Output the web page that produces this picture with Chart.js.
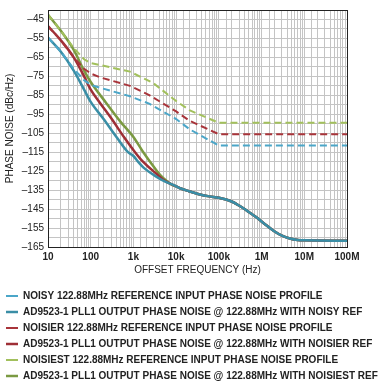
<!DOCTYPE html>
<html>
<head>
<meta charset="utf-8">
<script src="https://cdn.jsdelivr.net/npm/chart.js@4/dist/chart.umd.min.js"></script>
<style>
html,body{margin:0;padding:0;background:#fff;}
#wrap{width:382px;height:387px;}
</style>
</head>
<body>
<div id="wrap"><canvas id="c" width="382" height="387"></canvas></div>
<script>
// Tick labels
const xTickLabels = {10:'10',100:'100',1000:'1k',10000:'10k',100000:'100k',1000000:'1M',10000000:'10M',100000000:'100M'};

// Legend labels
const seriesNames = [
  'NOISY 122.88MHz REFERENCE INPUT PHASE NOISE PROFILE',
  'AD9523-1 PLL1 OUTPUT PHASE NOISE @ 122.88MHz WITH NOISY REF',
  'NOISIER 122.88MHz REFERENCE INPUT PHASE NOISE PROFILE',
  'AD9523-1 PLL1 OUTPUT PHASE NOISE @ 122.88MHz WITH NOISIER REF',
  'NOISIEST 122.88MHz REFERENCE INPUT PHASE NOISE PROFILE',
  'AD9523-1 PLL1 OUTPUT PHASE NOISE @ 122.88MHz WITH NOISIEST REF'
];

// Reference profiles (dashed)
const noisyRefF   = [10, 20, 40, 70, 100, 165, 830, 2400, 10000, 21000, 100000, 100000000];
const noisyRefV   = [-54.5, -62, -71, -77, -79.5, -81, -85.5, -89.5, -97.5, -103, -111.5, -111.5];
const noisierRefF = [10, 20, 40, 70, 100, 165, 830, 2400, 10000, 21000, 100000, 100000000];
const noisierRefV = [-48.5, -56, -65, -71, -73.5, -75.5, -80, -85, -93.5, -98.5, -105.5, -105.5];
const noisiestRefF = [10, 20, 40, 70, 100, 165, 830, 2900, 10000, 21000, 100000, 100000000];
const noisiestRefV = [-42.5, -51, -60, -66, -68, -69, -72.5, -78.5, -88, -93, -99.5, -99.5];

// PLL1 output (solid), low-offset part
const noisyOutF = [10, 20, 40, 70, 100, 200, 400, 745, 1000, 1280, 1700, 3500, 5000];
const noisyOutV = [-54.5, -62, -72, -82, -88.5, -97.5, -107, -115, -117, -120, -123, -128, -130];
const noisierOutF = [10, 20, 40, 70, 100, 165, 300, 600, 1090, 1670, 3500, 5000, 7000];
const noisierOutV = [-48.5, -56, -65, -75, -82, -89, -97, -107, -115, -120, -126.5, -129.5, -131.5];
const noisiestOutF = [10, 20, 40, 70, 100, 230, 500, 1000, 1700, 2450, 4200, 6000, 8000];
const noisiestOutV = [-42.5, -51, -61, -72, -78, -89, -99, -107, -115, -120, -127, -130.2, -132.2];

// Common high-offset part of all outputs
const tailF = [10000, 12300, 20000, 36000, 60000, 100000, 200000, 310000, 500000, 770000, 1200000, 1900000, 3000000, 4600000, 7000000, 10000000, 100000000];
const tailV = [-133, -134, -135.6, -137.3, -138.3, -139, -141, -143.4, -146.5, -149.5, -153, -156.4, -159, -160.5, -161.3, -161.5, -161.7];

function pts(f, v) { return f.map((x, i) => ({x: x, y: v[i]})); }
function withTail(f, v) {
  const last = f[f.length - 1];
  const p = pts(f, v);
  tailF.forEach((x, i) => { if (x > last) p.push({x: x, y: tailV[i]}); });
  return p;
}

const colBlueD = '#4ba6c8', colBlue = '#3a8ea6';
const colRedD = '#a8343a', colRed = '#9e2f36';
const colGreenD = '#a2c05c', colGreen = '#7b9a42';

const dashedStyle = {borderDash: [7, 4], borderWidth: 2, tension: 0, cubicInterpolationMode: 'default'};
const solidStyle = {borderWidth: 2.5, cubicInterpolationMode: 'monotone'};

const datasets = [
  Object.assign({label: seriesNames[0], data: pts(noisyRefF, noisyRefV), borderColor: colBlueD}, dashedStyle),
  Object.assign({label: seriesNames[1], data: withTail(noisyOutF, noisyOutV), borderColor: colBlue}, solidStyle),
  Object.assign({label: seriesNames[2], data: pts(noisierRefF, noisierRefV), borderColor: colRedD}, dashedStyle),
  Object.assign({label: seriesNames[3], data: withTail(noisierOutF, noisierOutV), borderColor: colRed}, solidStyle),
  Object.assign({label: seriesNames[4], data: pts(noisiestRefF, noisiestRefV), borderColor: colGreenD}, dashedStyle),
  Object.assign({label: seriesNames[5], data: withTail(noisiestOutF, noisiestOutV), borderColor: colGreen}, solidStyle)
].map(d => Object.assign({pointRadius: 0, fill: false, backgroundColor: d.borderColor}, d));

const gridColor = '#c4c4c4';
const fam = 'Liberation Sans, Arial, sans-serif';

const borderPlugin = {
  id: 'plotBorder',
  afterDatasetsDraw(chart) {
    const a = chart.chartArea, ctx = chart.ctx;
    ctx.save();
    ctx.strokeStyle = '#222';
    ctx.lineWidth = 1;
    ctx.strokeRect(Math.round(a.left) + 0.5, Math.round(a.top) + 0.5, Math.round(a.right - a.left), Math.round(a.bottom - a.top));
    ctx.restore();
  }
};

new Chart(document.getElementById('c'), {
  type: 'line',
  data: {datasets: datasets},
  plugins: [borderPlugin],
  options: {
    responsive: false,
    animation: false,
    layout: {padding: {top: 2, right: 0, left: 0, bottom: -4}},
    plugins: {
      tooltip: {enabled: false},
      legend: {
        position: 'bottom',
        align: 'start',
        labels: {
          usePointStyle: true,
          pointStyle: 'line',
          pointStyleWidth: 12,
          padding: 6,
          color: '#222',
          font: {family: fam, size: 10, weight: 'bold'}
        }
      }
    },
    scales: {
      x: {
        type: 'logarithmic',
        min: 10, max: 100000000,
        grid: {color: gridColor, lineWidth: 1, drawTicks: false},
        border: {display: false},
        ticks: {
          autoSkip: false, maxRotation: 0, padding: 4,
          color: '#222',
          font: {family: fam, size: 10, weight: 'bold'},
          callback: function(v) { return xTickLabels[v] !== undefined ? xTickLabels[v] : ''; }
        },
        title: {display: true, text: 'OFFSET FREQUENCY (Hz)', color: '#222', padding: {top: 0, bottom: 9},
          font: {family: fam, size: 10}},
        afterBuildTicks: function(s) {
          s.ticks = s.ticks.filter(t => t.value >= 10 && t.value <= 100000000);
        },
        afterFit: function(s) { s.height = s.height - 3; }
      },
      y: {
        type: 'linear',
        min: -165, max: -40,
        grid: {color: gridColor, lineWidth: 1, drawTicks: false},
        border: {display: false},
        ticks: {
          stepSize: 5, autoSkip: false, padding: 4,
          color: '#222',
          font: {family: fam, size: 10},
          callback: function(v) { return ((v + 45) % 10 === 0) ? '\u2013' + Math.abs(v) : ''; }
        },
        title: {display: true, text: 'PHASE NOISE (dBc/Hz)', color: '#222', padding: {top: 4, bottom: 0},
          font: {family: fam, size: 10}},
        afterFit: function(s) { s.width = 48; }
      },
      yR: {
        type: 'linear',
        position: 'right',
        display: true,
        grid: {display: false, drawTicks: false},
        border: {display: false},
        ticks: {display: false},
        afterFit: function(s) { s.width = 35; }
      }
    }
  }
});
</script>
</body>
</html>
